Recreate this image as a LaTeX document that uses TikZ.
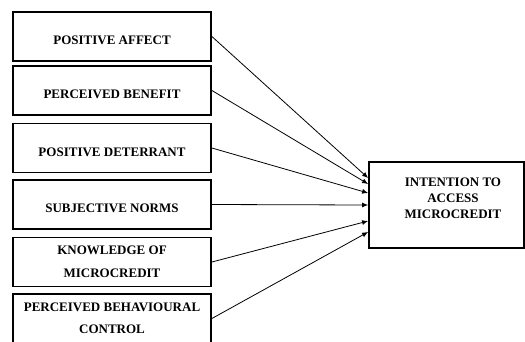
\documentclass[tikz,border=0pt]{standalone}
\usepackage{fontspec}
\setmainfont{Liberation Serif}
\usetikzlibrary{arrows.meta}

\tikzset{
  factor/.style={draw, line width=1.8pt, minimum width=198pt, minimum height=49pt,
    inner sep=0pt, align=center, font=\fontsize{13}{23}\selectfont\bfseries,
    execute at begin node=\rule{0pt}{17pt}},
  outcome/.style={draw, line width=1.8pt, minimum width=155pt, minimum height=86pt, inner sep=0pt},
  outtext/.style={align=center, inner sep=0pt, font=\fontsize{13}{16}\selectfont\bfseries},
  link/.style={line width=0.8pt, -{Latex[length=6pt,width=5pt]}}
}

\begin{document}
\begin{tikzpicture}[x=1pt,y=-1pt]
\useasboundingbox (0,0) rectangle (525,341);
\clip (0,0) rectangle (525,341);
% Draw the factor boxes
\node[factor] (affect) at (112,36.5) {POSITIVE AFFECT};
\node[factor] (benefit) at (112,90.5) {PERCEIVED BENEFIT};
\node[factor] (deterrant) at (112,148) {POSITIVE DETERRANT};
\node[factor] (norms) at (112,204.5) {SUBJECTIVE NORMS};
\node[factor] (knowledge) at (112,262) {KNOWLEDGE OF\\MICROCREDIT};
\node[factor, font=\fontsize{13}{22}\selectfont\bfseries] (control) at (112,318.5) {PERCEIVED BEHAVIOURAL\\CONTROL};
% Draw the outcome box
\node[outcome] (intent) at (446.5,205) {};
\node[outtext] (intenttext) at (453,198.5) {INTENTION TO\\ACCESS\\MICROCREDIT};
% Draw the links
\draw[link] (affect.east) -- ([yshift=27pt]intent.west);
\draw[link] (benefit.east) -- ([yshift=21pt]intent.west);
\draw[link] (deterrant.east) -- ([yshift=12pt]intent.west);
\draw[link] (norms.east) -- (intent.west);
\draw[link] (knowledge.east) -- ([yshift=-16pt]intent.west);
\draw[link] (control.east) -- ([yshift=-27pt]intent.west);
\end{tikzpicture}
\end{document}
